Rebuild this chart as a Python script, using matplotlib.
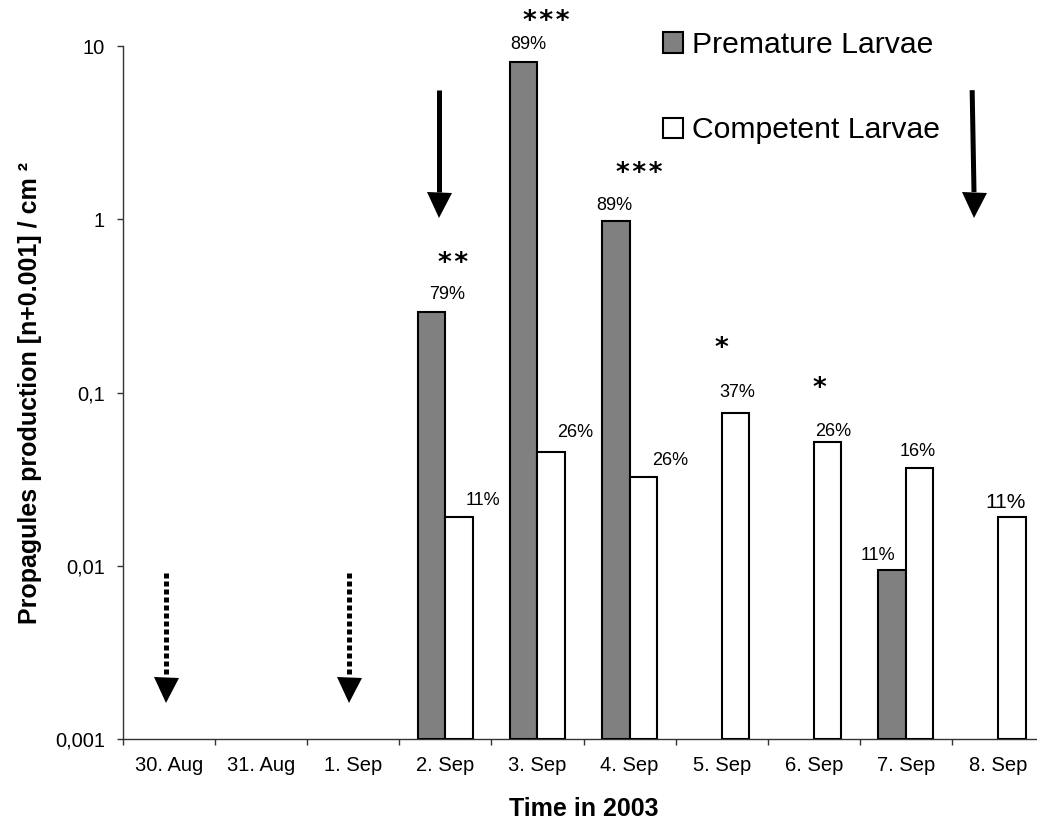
import numpy as np
import matplotlib.pyplot as plt

plt.rcParams['font.family'] = ['Liberation Sans', 'DejaVu Sans']

# data
dates = ['30. Aug', '31. Aug', '1. Sep', '2. Sep', '3. Sep', '4. Sep',
         '5. Sep', '6. Sep', '7. Sep', '8. Sep']
premature = [np.nan, np.nan, np.nan, 0.292, 8.1, 0.975, np.nan, np.nan, 0.00945, np.nan]
competent = [np.nan, np.nan, np.nan, 0.0192, 0.0455, 0.0324, 0.0764, 0.0517, 0.0368, 0.0192]
premature_pct = ['', '', '', '79%', '89%', '89%', '', '', '11%', '']
competent_pct = ['', '', '', '11%', '26%', '26%', '37%', '26%', '16%', '11%']
stars = ['', '', '', '**', '***', '***', '*', '*', '', '']
yticks = [0.001, 0.01, 0.1, 1, 10]
ytick_labels = ['0,001', '0,01', '0,1', '1', '10']

# label offsets in pixels from the bar top (dx, dy)
prem_off = {3: (16, 17), 4: (5, 17), 5: (-1, 16), 8: (-14, 15)}
comp_off = {3: (24, 16), 4: (24, 19), 5: (27, 17), 6: (1.5, 20), 7: (6, 11), 8: (-2, 16), 9: (-6, 14)}
star_off = {3: (7.6, 54), 4: (8.5, 45.7), 5: (9.4, 53), 6: (-0.7, 69.7), 7: (5.2, 59)}

BASE = 0.001
W = 0.3
x = np.arange(len(dates))
prem = np.array(premature)
comp = np.array(competent)

fig = plt.figure(figsize=(10.37, 8.23), dpi=100)
ax = fig.add_axes([123 / 1037, 84 / 823, 921 / 1037, 693 / 823])
ax.set_yscale('log')
ax.set_ylim(0.001, 10)
ax.set_xlim(-0.5, len(dates) - 0.5)

m1 = ~np.isnan(prem)
m2 = ~np.isnan(comp)
b1 = ax.bar(x[m1] - W / 2, prem[m1] - BASE, width=W, bottom=BASE, color='#808080',
            edgecolor='black', linewidth=1.5, label='Premature Larvae', zorder=3)
b2 = ax.bar(x[m2] + W / 2, comp[m2] - BASE, width=W, bottom=BASE, color='white',
            edgecolor='black', linewidth=1.5, label='Competent Larvae', zorder=3)

# percentage labels
for i, t in enumerate(premature_pct):
    if t:
        dx, dy = prem_off[i]
        ax.annotate(t, (x[i] - W / 2, prem[i]), xytext=(dx, dy), textcoords='offset pixels',
                    ha='center', va='center', fontsize=13)
for i, t in enumerate(competent_pct):
    if t:
        dx, dy = comp_off[i]
        fs = 15 if i == 9 else 13
        ax.annotate(t, (x[i] + W / 2, comp[i]), xytext=(dx, dy), textcoords='offset pixels',
                    ha='center', va='center', fontsize=fs)
# significance stars, a little spacing between them
for i, t in enumerate(stars):
    if t:
        dx, dy = star_off[i]
        top = np.nanmax([prem[i], comp[i]])
        ax.annotate('\u200a'.join(t), (x[i], top), xytext=(dx, dy - 6),
                    textcoords='offset pixels', ha='center', va='center', fontsize=19,
                    family='DejaVu Sans', fontweight='bold')

# arrows marking events (shaft top, head base, head centre)
solid_arrows = [(2.93, 2.93), (8.72, 8.74)]
for xt, xb in solid_arrows:
    ax.plot([xt, xb], [5.56, 1.434], color='black', lw=3.6, solid_capstyle='butt', zorder=4)
    ax.plot(xb, 1.214, marker='v', ms=18, color='black', mew=0, zorder=4)
dotted_arrows = [-0.03, 1.95]
for xd in dotted_arrows:
    ax.plot([xd, xd], [0.0091, 0.00228], color='black', lw=3.6,
            linestyle=(0, (1, 0.6)), dash_capstyle='butt', zorder=4)
    ax.plot(xd, 0.00193, marker='v', ms=18, color='black', mew=0, zorder=4)

# axes styling
for s in ['top', 'right']:
    ax.spines[s].set_visible(False)
for s in ['left', 'bottom']:
    ax.spines[s].set_color('#333333')
    ax.spines[s].set_linewidth(1)

ax.set_yticks(yticks)
ax.set_yticklabels(ytick_labels)
ax.yaxis.set_minor_locator(plt.NullLocator())
ax.tick_params(axis='y', which='major', length=4.3, width=1, color='#333333',
               labelsize=14.5, pad=8.6)

ax.set_xticks(np.arange(len(dates) + 1) - 0.5)
ax.set_xticklabels([])
ax.set_xticks(x, minor=True)
ax.set_xticklabels(dates, minor=True)
ax.tick_params(axis='x', which='major', length=4.3, width=1, color='#333333')
ax.tick_params(axis='x', which='minor', length=0, labelsize=14.5, pad=12)

ax.set_ylabel('Propagules production [n+0.001] / cm ²', fontsize=18, fontweight='bold')
ax.yaxis.set_label_coords(-0.088, 0.5)
ax.set_xlabel('Time in 2003', fontsize=18, fontweight='bold')
ax.xaxis.set_label_coords(0.5, -0.084)

ax.legend(handles=[b1, b2], loc='upper left', bbox_to_anchor=(663 / 1037, 1 - 31 / 823),
          bbox_transform=fig.transFigure, frameon=False, fontsize=21.7, borderpad=0,
          borderaxespad=0, handlelength=0.66, handleheight=0.66, handletextpad=0.3,
          labelspacing=1.9)

fig.savefig('out.png', dpi=100)
